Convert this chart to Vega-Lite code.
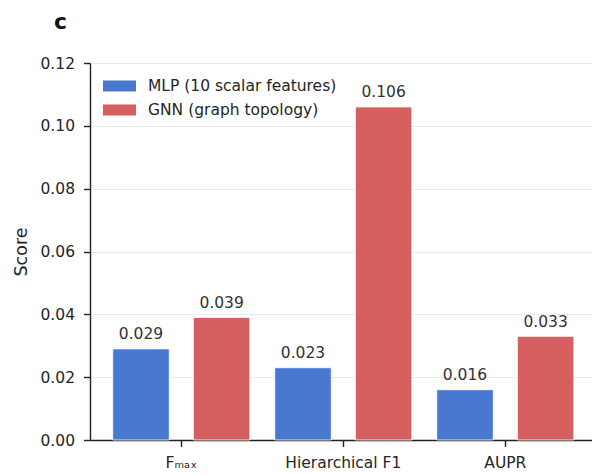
{
  "$schema": "https://vega.github.io/schema/vega-lite/v6.json",
  "autosize": "none",
  "width": 502,
  "height": 377,
  "padding": {"left": 90, "top": 63, "right": 0, "bottom": 34},
  "background": "white",
  "config": {
    "font": "DejaVu Sans",
    "view": {"stroke": null},
    "axis": {"labelFont": "DejaVu Sans", "titleFont": "DejaVu Sans", "labelColor": "#262626", "titleColor": "#262626"}
  },
  "title": {
    "text": "c",
    "anchor": "start",
    "frame": "group",
    "fontSize": 22,
    "fontWeight": "bold",
    "color": "#111111",
    "dx": -36,
    "offset": 22
  },
  "data": {
    "values": [
      {"metric": "Fₘₐₓ", "model": "MLP (10 scalar features)", "score": 0.029},
      {"metric": "Fₘₐₓ", "model": "GNN (graph topology)", "score": 0.039},
      {"metric": "Hierarchical F1", "model": "MLP (10 scalar features)", "score": 0.023},
      {"metric": "Hierarchical F1", "model": "GNN (graph topology)", "score": 0.106},
      {"metric": "AUPR", "model": "MLP (10 scalar features)", "score": 0.016},
      {"metric": "AUPR", "model": "GNN (graph topology)", "score": 0.033}
    ]
  },
  "encoding": {
    "x": {
      "field": "metric",
      "type": "nominal",
      "sort": ["Fₘₐₓ", "Hierarchical F1", "AUPR"],
      "scale": {"paddingInner": 0, "paddingOuter": 0.0494, "align": 0.644},
      "axis": {
        "title": null,
        "labelAngle": 0,
        "labelFontSize": 15.5,
        "labelPadding": 9,
        "domainColor": "#222222",
        "domainWidth": 1.4,
        "tickColor": "#222222",
        "tickWidth": 1.4,
        "tickSize": 6.5,
        "grid": false
      }
    },
    "xOffset": {
      "field": "model",
      "type": "nominal",
      "sort": ["MLP (10 scalar features)", "GNN (graph topology)"],
      "scale": {"paddingInner": 0.299, "paddingOuter": 0.1545}
    },
    "y": {
      "field": "score",
      "type": "quantitative",
      "scale": {"domain": [0, 0.12], "nice": false},
      "axis": {
        "title": "Score",
        "titleFontSize": 17.5,
        "titleFontWeight": "normal",
        "titlePadding": 9,
        "values": [0, 0.02, 0.04, 0.06, 0.08, 0.1, 0.12],
        "format": ".2f",
        "labelFontSize": 15.5,
        "labelPadding": 9,
        "domainColor": "#222222",
        "domainWidth": 1.4,
        "tickColor": "#222222",
        "tickWidth": 1.4,
        "tickSize": 6.5,
        "grid": true,
        "gridColor": "#ebebeb",
        "gridWidth": 1
      }
    }
  },
  "layer": [
    {
      "mark": {"type": "bar", "stroke": "white", "strokeWidth": 0.8},
      "encoding": {
        "color": {
          "field": "model",
          "type": "nominal",
          "sort": ["MLP (10 scalar features)", "GNN (graph topology)"],
          "scale": {"range": ["#4878CF", "#D65F5F"]},
          "legend": {
            "title": null,
            "orient": "none",
            "legendX": 19.5,
            "legendY": 13,
            "symbolType": "M-1.65,-0.55L1.65,-0.55L1.65,0.55L-1.65,0.55Z",
            "symbolSize": 400,
            "symbolStrokeWidth": 0,
            "symbolOpacity": 1,
            "labelFontSize": 15.5,
            "labelColor": "#262626",
            "labelOffset": 18.5,
            "labelLimit": 400,
            "rowPadding": 5
          }
        }
      }
    },
    {
      "mark": {"type": "text", "baseline": "alphabetic", "dy": -9.5, "fontSize": 15.5, "color": "#333333"},
      "encoding": {
        "text": {"field": "score", "type": "quantitative", "format": ".3f"}
      }
    }
  ]
}
